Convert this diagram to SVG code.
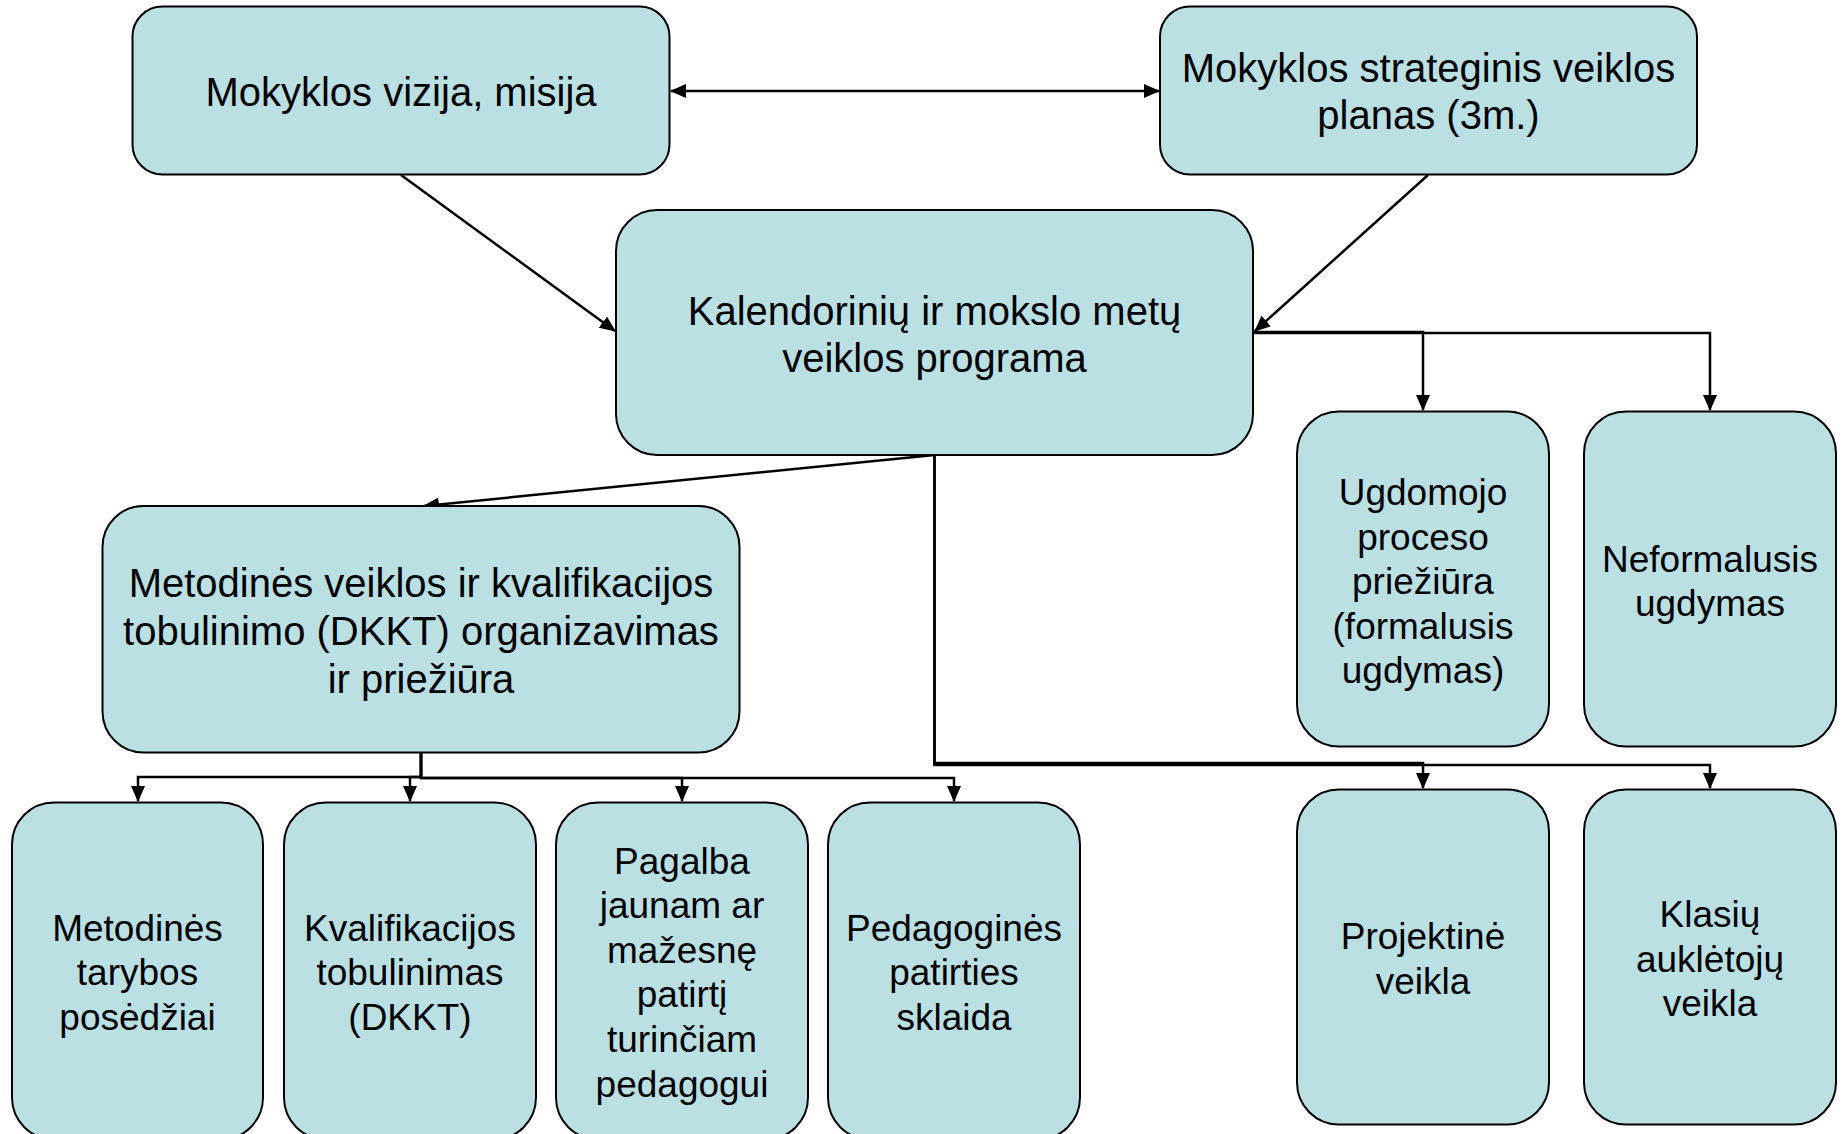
<svg xmlns="http://www.w3.org/2000/svg" width="1846" height="1134" viewBox="0 0 1846 1134">
<defs>
<style>
.box{fill:#BAE0E3;stroke:#000;stroke-width:2}
.t{font-family:"Liberation Sans",Arial,sans-serif;font-size:40px;fill:#000;text-anchor:middle}
.s{font-size:37px}
.c{fill:none;stroke:#000;stroke-width:2.5}
</style>
<marker id="ah" markerUnits="userSpaceOnUse" markerWidth="16" markerHeight="16" viewBox="0 0 16 16" refX="15" refY="8" orient="auto-start-reverse">
<path d="M0,1 L16,8 L0,15 Z" fill="#000"/>
</marker>
</defs>
<rect width="1846" height="1134" fill="#fff"/>
<g id="connectors">
<path class="c" d="M671,91 L1159,91" marker-start="url(#ah)" marker-end="url(#ah)"/>
<path class="c" d="M401,175 L615,331" marker-end="url(#ah)"/>
<path class="c" d="M1428,175 L1255,331" marker-end="url(#ah)"/>
<path class="c" d="M1253,332 L1423,332 L1423,410" marker-end="url(#ah)"/>
<path class="c" d="M1253,333 L1710,333 L1710,410" marker-end="url(#ah)"/>
<path class="c" d="M934.5,455 L424,506" marker-end="url(#ah)"/>
<path class="c" d="M934.5,455 L934.5,763 L1423,763 L1423,788" marker-end="url(#ah)"/>
<path class="c" d="M934.5,455 L934.5,765 L1710,765 L1710,788" marker-end="url(#ah)"/>
<path class="c" d="M421,752 L421,777 L138,777 L138,801" marker-end="url(#ah)"/>
<path class="c" d="M421,752 L421,777 L410,777 L410,801" marker-end="url(#ah)"/>
<path class="c" d="M421,752 L421,778 L682,778 L682,801" marker-end="url(#ah)"/>
<path class="c" d="M421,752 L421,778 L954,778 L954,801" marker-end="url(#ah)"/>
</g>
<g id="n1">
<rect class="box" x="132.5" y="6.5" width="537" height="168" rx="30"/>
<text class="t" x="401" y="106">Mokyklos vizija, misija</text>
</g>
<g id="n2">
<rect class="box" x="1160" y="6.5" width="537" height="168" rx="30"/>
<text class="t" x="1428.5" y="82">Mokyklos strateginis veiklos</text>
<text class="t" x="1428.5" y="129">planas (3m.)</text>
</g>
<g id="n3">
<rect class="box" x="616" y="210" width="637" height="245" rx="41"/>
<text class="t" x="934.5" y="325">Kalendorinių ir mokslo metų</text>
<text class="t" x="934.5" y="372">veiklos programa</text>
</g>
<g id="n4">
<rect class="box" x="102.5" y="506" width="637" height="246.5" rx="41"/>
<text class="t" x="421" y="597">Metodinės veiklos ir kvalifikacijos</text>
<text class="t" x="421" y="645">tobulinimo (DKKT) organizavimas</text>
<text class="t" x="421" y="693">ir priežiūra</text>
</g>
<g id="n5">
<rect class="box" x="1297" y="411.5" width="252" height="335" rx="42"/>
<text class="t s" x="1423" y="505">Ugdomojo</text>
<text class="t s" x="1423" y="549.6">proceso</text>
<text class="t s" x="1423" y="594.2">priežiūra</text>
<text class="t s" x="1423" y="638.8">(formalusis</text>
<text class="t s" x="1423" y="683.4">ugdymas)</text>
</g>
<g id="n6">
<rect class="box" x="1584" y="411.5" width="252" height="335" rx="42"/>
<text class="t s" x="1710" y="571.5">Neformalusis</text>
<text class="t s" x="1710" y="616.1">ugdymas</text>
</g>
<g id="n7">
<rect class="box" x="1297" y="789.5" width="252" height="335" rx="42"/>
<text class="t s" x="1423" y="949">Projektinė</text>
<text class="t s" x="1423" y="993.6">veikla</text>
</g>
<g id="n8">
<rect class="box" x="1584" y="789.5" width="252" height="335" rx="42"/>
<text class="t s" x="1710" y="927">Klasių</text>
<text class="t s" x="1710" y="971.6">auklėtojų</text>
<text class="t s" x="1710" y="1016.2">veikla</text>
</g>
<g id="n9">
<rect class="box" x="12" y="802.5" width="251" height="337" rx="42"/>
<text class="t s" x="137.5" y="940.5">Metodinės</text>
<text class="t s" x="137.5" y="985.1">tarybos</text>
<text class="t s" x="137.5" y="1029.7">posėdžiai</text>
</g>
<g id="n10">
<rect class="box" x="284" y="802.5" width="252" height="337" rx="42"/>
<text class="t s" x="410" y="940.5">Kvalifikacijos</text>
<text class="t s" x="410" y="985.1">tobulinimas</text>
<text class="t s" x="410" y="1029.7">(DKKT)</text>
</g>
<g id="n11">
<rect class="box" x="556" y="802.5" width="252" height="337" rx="42"/>
<text class="t s" x="682" y="873.5">Pagalba</text>
<text class="t s" x="682" y="918.1">jaunam ar</text>
<text class="t s" x="682" y="962.7">mažesnę</text>
<text class="t s" x="682" y="1007.3">patirtį</text>
<text class="t s" x="682" y="1051.9">turinčiam</text>
<text class="t s" x="682" y="1096.5">pedagogui</text>
</g>
<g id="n12">
<rect class="box" x="828" y="802.5" width="252" height="337" rx="42"/>
<text class="t s" x="954" y="940.5">Pedagoginės</text>
<text class="t s" x="954" y="985.1">patirties</text>
<text class="t s" x="954" y="1029.7">sklaida</text>
</g>
</svg>
